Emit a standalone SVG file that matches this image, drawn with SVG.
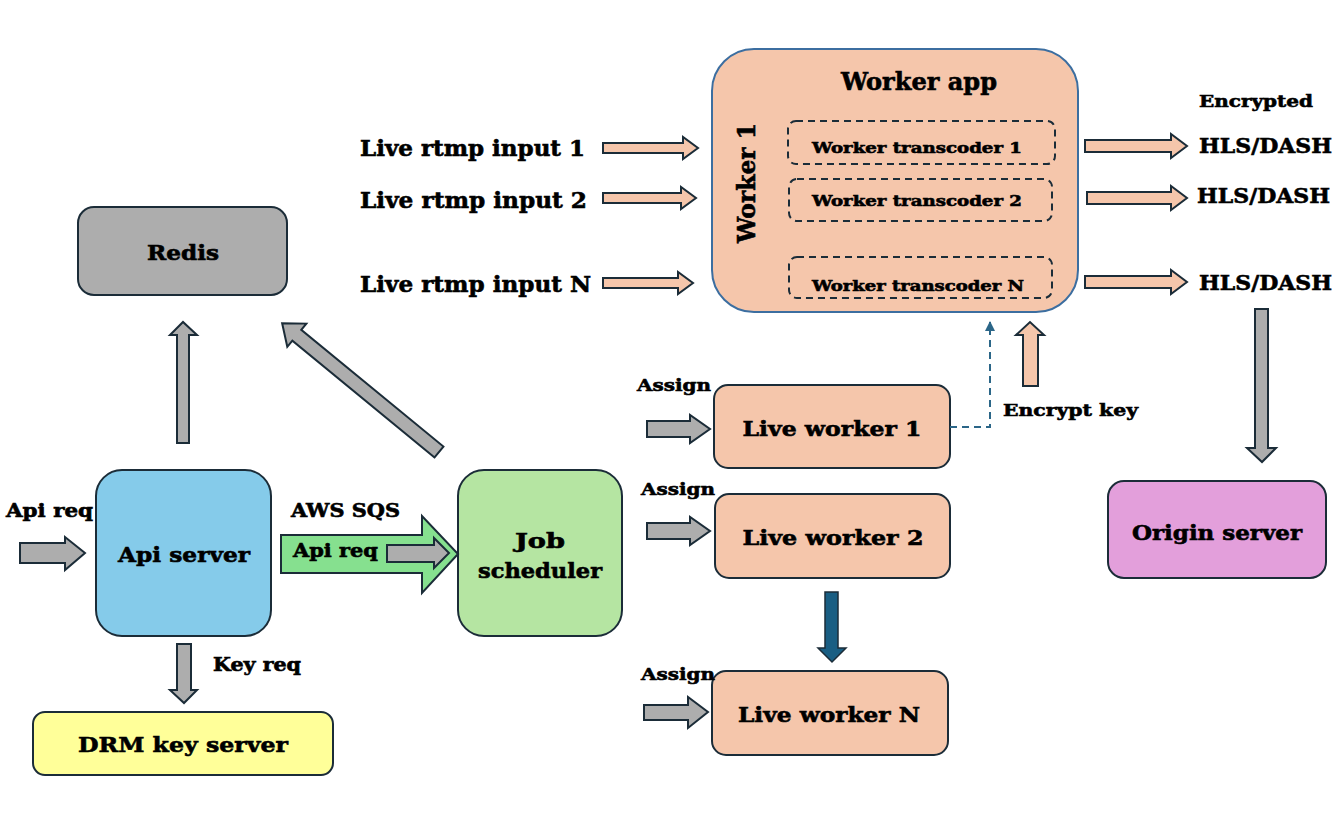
<svg xmlns="http://www.w3.org/2000/svg" width="1344" height="816" viewBox="0 0 1344 816">
<style>
text{font-family:"DejaVu Serif","Liberation Serif",serif;font-weight:bold;fill:#000;stroke:#000;stroke-width:0.6}
.node{stroke:#1b2c38;stroke-width:2}
.peach{fill:#f5c6ab}
.gray{fill:#adadad}
.arr{stroke:#1b2c38;stroke-width:2;stroke-linejoin:miter}
.dash{fill:none;stroke:#1b2c38;stroke-width:2;stroke-dasharray:7 5}
</style>
<defs>
<marker id="smallHead" viewBox="0 0 10 10" refX="9" refY="5" markerWidth="5" markerHeight="5" orient="auto"><path d="M0,0 L10,5 L0,10 Z" fill="#2b6688"/></marker>
</defs>
<rect width="1344" height="816" fill="#fff"/>

<g id="worker-app">
<rect x="712" y="49" width="366" height="263" rx="42" fill="#f5c6ab" stroke="#3c6ea0" stroke-width="2"/>
<text x="919" y="90" font-size="24" text-anchor="middle" textLength="156" lengthAdjust="spacingAndGlyphs">Worker app</text>
<text transform="translate(755,183) rotate(-90)" font-size="24" text-anchor="middle" textLength="120" lengthAdjust="spacingAndGlyphs">Worker 1</text>
<g id="transcoder-1"><rect x="788" y="121" width="267" height="43" rx="8" class="dash"/><text x="917" y="153" font-size="15" text-anchor="middle" textLength="210" lengthAdjust="spacingAndGlyphs">Worker transcoder 1</text></g>
<g id="transcoder-2"><rect x="789" y="179" width="263" height="42" rx="8" class="dash"/><text x="917" y="206" font-size="15" text-anchor="middle" textLength="210" lengthAdjust="spacingAndGlyphs">Worker transcoder 2</text></g>
<g id="transcoder-n"><rect x="789" y="257" width="263" height="41" rx="8" class="dash"/><text x="918" y="291" font-size="15" text-anchor="middle" textLength="212" lengthAdjust="spacingAndGlyphs">Worker transcoder N</text></g>
</g>

<g id="redis"><rect x="78" y="207" width="209" height="88" rx="16" class="node gray"/><text x="183" y="260" font-size="21" text-anchor="middle" textLength="72" lengthAdjust="spacingAndGlyphs">Redis</text></g>
<g id="api-server"><rect x="96" y="470" width="175" height="166" rx="26" class="node" fill="#85cbea"/><text x="184" y="562" font-size="21" text-anchor="middle" textLength="132" lengthAdjust="spacingAndGlyphs">Api server</text></g>
<g id="job-scheduler"><rect x="458" y="470" width="164" height="166" rx="26" class="node" fill="#b5e5a2"/><text x="540" y="548" font-size="21" text-anchor="middle" textLength="50" lengthAdjust="spacingAndGlyphs">Job</text><text x="540" y="578" font-size="21" text-anchor="middle" textLength="124" lengthAdjust="spacingAndGlyphs">scheduler</text></g>
<g id="drm-key-server"><rect x="33" y="712" width="300" height="63" rx="12" class="node" fill="#ffff99"/><text x="183" y="752" font-size="21" text-anchor="middle" textLength="210" lengthAdjust="spacingAndGlyphs">DRM key server</text></g>
<g id="live-worker-1"><rect x="714" y="385" width="236" height="83" rx="14" class="node peach"/><text x="832" y="436" font-size="21" text-anchor="middle" textLength="179" lengthAdjust="spacingAndGlyphs">Live worker 1</text></g>
<g id="live-worker-2"><rect x="715" y="494" width="235" height="84" rx="14" class="node peach"/><text x="833" y="545" font-size="21" text-anchor="middle" textLength="181" lengthAdjust="spacingAndGlyphs">Live worker 2</text></g>
<g id="live-worker-n"><rect x="712" y="671" width="236" height="84" rx="14" class="node peach"/><text x="829" y="722" font-size="21" text-anchor="middle" textLength="182" lengthAdjust="spacingAndGlyphs">Live worker N</text></g>
<g id="origin-server"><rect x="1108" y="481" width="218" height="97" rx="16" class="node" fill="#e39fdb"/><text x="1217" y="540" font-size="21" text-anchor="middle" textLength="170" lengthAdjust="spacingAndGlyphs">Origin server</text></g>

<g id="connectors">
<path class="arr peach" d="M603,143 H683 V137 L698,148 L683,159 V153 H603 Z"/>
<path class="arr peach" d="M603,193 H681 V187 L696,198 L681,209 V203 H603 Z"/>
<path class="arr peach" d="M603,278 H678 V272 L693,283 L678,294 V288 H603 Z"/>
<path class="arr peach" d="M1085,140 H1171 V134 L1187,146 L1171,158 V152 H1085 Z"/>
<path class="arr peach" d="M1087,192 H1171 V186 L1187,198 L1171,210 V204 H1087 Z"/>
<path class="arr peach" d="M1085,276 H1171 V270 L1187,282 L1171,294 V288 H1085 Z"/>
<path class="arr gray" d="M20,543 H65 V537 L85,553 L65,570 V563 H20 Z"/>
<path class="arr gray" d="M177,443 V335 H170 L183,322 L197,335 H189 V443 Z"/>
<path class="arr gray" transform="translate(439,452) rotate(219.4)" d="M0,-7 H184 V-15 L203,0 L184,15 V7 H0 Z"/>
<path class="arr gray" d="M177,644 V690 H170 L184,703 L197,690 H191 V644 Z"/>
<path class="arr" fill="#86e08f" d="M281,535 H422 V516 L458,554 L422,593 V573 H281 Z"/>
<path class="arr gray" d="M387,545 H434 V538 L449,553 L434,568 V562 H387 Z"/>
<path class="arr gray" d="M647,421 H690 V415 L710,429 L690,443 V437 H647 Z"/>
<path class="arr gray" d="M647,523 H690 V517 L710,531 L690,545 V539 H647 Z"/>
<path class="arr gray" d="M644,705 H688 V697 L708,712 L688,728 V720 H644 Z"/>
<path stroke="#1b2c38" stroke-width="1.5" fill="#195e83" d="M825,592 V648 H818 L832,662 L846,648 H838 V592 Z"/>
<path d="M950,427 H990 V322" fill="none" stroke="#2b6688" stroke-width="2" stroke-dasharray="7 5" marker-end="url(#smallHead)"/>
<path class="arr peach" d="M1023,386 V335 H1016 L1030,322 L1044,335 H1038 V386 Z"/>
<path class="arr gray" d="M1255,309 V448 H1247 L1262,462 L1276,448 H1268 V309 Z"/>
</g>

<g id="labels">
<text x="360" y="156" font-size="22" textLength="225" lengthAdjust="spacingAndGlyphs">Live rtmp input 1</text>
<text x="360" y="208" font-size="22" textLength="227" lengthAdjust="spacingAndGlyphs">Live rtmp input 2</text>
<text x="360" y="292" font-size="22" textLength="231" lengthAdjust="spacingAndGlyphs">Live rtmp input N</text>
<text x="1199" y="107" font-size="17" textLength="114" lengthAdjust="spacingAndGlyphs">Encrypted</text>
<text x="1199" y="153" font-size="21" textLength="133" lengthAdjust="spacingAndGlyphs">HLS/DASH</text>
<text x="1197" y="203" font-size="21" textLength="133" lengthAdjust="spacingAndGlyphs">HLS/DASH</text>
<text x="1199" y="290" font-size="21" textLength="133" lengthAdjust="spacingAndGlyphs">HLS/DASH</text>
<text x="6" y="517" font-size="18" textLength="87" lengthAdjust="spacingAndGlyphs">Api req</text>
<text x="291" y="517" font-size="18" textLength="109" lengthAdjust="spacingAndGlyphs">AWS SQS</text>
<text x="293" y="557" font-size="18" textLength="85" lengthAdjust="spacingAndGlyphs">Api req</text>
<text x="213" y="671" font-size="18" textLength="88" lengthAdjust="spacingAndGlyphs">Key req</text>
<text x="637" y="391" font-size="17" textLength="74" lengthAdjust="spacingAndGlyphs">Assign</text>
<text x="641" y="495" font-size="17" textLength="74" lengthAdjust="spacingAndGlyphs">Assign</text>
<text x="641" y="680" font-size="17" textLength="74" lengthAdjust="spacingAndGlyphs">Assign</text>
<text x="1003" y="416" font-size="17" textLength="135" lengthAdjust="spacingAndGlyphs">Encrypt key</text>
</g>
</svg>
